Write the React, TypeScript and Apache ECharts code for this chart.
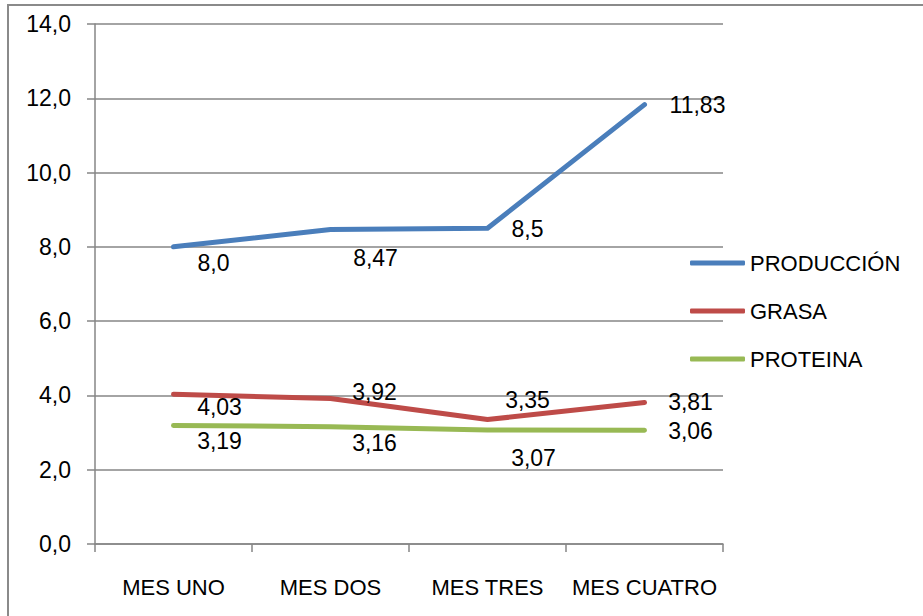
import React, { useEffect, useRef } from "react";
import * as echarts from "echarts";

const categories = ["MES UNO", "MES DOS", "MES TRES", "MES CUATRO"];
const produccion = [8.0, 8.47, 8.5, 11.83];
const grasa = [4.03, 3.92, 3.35, 3.81];
const proteina = [3.19, 3.16, 3.07, 3.06];
const produccionLabels = ["8,0", "8,47", "8,5", "11,83"];
const grasaLabels = ["4,03", "3,92", "3,35", "3,81"];
const proteinaLabels = ["3,19", "3,16", "3,07", "3,06"];
const yTicks = { min: 0, max: 14, interval: 2 };

// label offsets (dx, dy) from each point, in pixels
const produccionOffsets = [[40, 16], [45, 29], [40, 1], [53, 0]];
const grasaOffsets = [[46, 13], [44, -6], [40, -20], [46, 0]];
const proteinaOffsets = [[46, 15], [44, 16], [46, 28], [46, 1]];

const FONT = "'Liberation Sans', Arial, sans-serif";

function mkData(vals: number[], labels: string[], offs: number[][]) {
  return vals.map((v, i) => ({
    value: v,
    label: {
      show: true,
      position: "inside",
      offset: offs[i],
      formatter: labels[i],
      fontFamily: FONT,
      fontSize: 23,
      color: "#000",
    },
  }));
}

export default function App() {
  const ref = useRef<HTMLDivElement>(null);
  useEffect(() => {
    document.body.style.margin = "0";
    const chart = echarts.init(ref.current!, null, { renderer: "svg" });
    const series = [
      { name: "PRODUCCIÓN", color: "#4A7EBB", vals: produccion, labels: produccionLabels, offs: produccionOffsets },
      { name: "GRASA", color: "#BE4B48", vals: grasa, labels: grasaLabels, offs: grasaOffsets },
      { name: "PROTEINA", color: "#98B954", vals: proteina, labels: proteinaLabels, offs: proteinaOffsets },
    ];
    chart.setOption({
      animation: false,
      backgroundColor: "#fff",
      graphic: [
        {
          type: "rect",
          shape: { x: 8, y: 5, width: 940, height: 640 },
          style: { fill: "none", stroke: "#8a8a8a", lineWidth: 2 },
          silent: true,
          z: -1,
        },
      ],
      grid: { left: 95, right: 200, top: 24, bottom: 72, containLabel: false },
      legend: {
        orient: "vertical",
        left: 685,
        top: 246,
        itemWidth: 55,
        itemHeight: 5,
        itemGap: 24,
        icon: "roundRect",
        data: series.map((s) => s.name),
        textStyle: { fontFamily: FONT, fontSize: 22, color: "#000", lineHeight: 24 },
      },
      xAxis: {
        type: "category",
        data: categories,
        boundaryGap: true,
        axisLine: { lineStyle: { color: "#868686", width: 1.5 } },
        axisTick: { show: true, length: 8, lineStyle: { color: "#868686", width: 1.5 } },
        axisLabel: { fontFamily: FONT, fontSize: 22, color: "#000", margin: 32, interval: 0 },
        splitLine: { show: false },
      },
      yAxis: {
        type: "value",
        min: yTicks.min,
        max: yTicks.max,
        interval: yTicks.interval,
        axisLine: { show: true, lineStyle: { color: "#868686", width: 1.5 } },
        axisTick: { show: true, length: 8, lineStyle: { color: "#868686", width: 1.5 } },
        axisLabel: {
          fontFamily: FONT,
          fontSize: 23,
          color: "#000",
          margin: 24,
          formatter: (v: number) => v.toFixed(1).replace(".", ","),
        },
        splitLine: { show: true, lineStyle: { color: "#868686", width: 1.5 } },
      },
      series: series.map((s) => ({
        name: s.name,
        type: "line",
        data: mkData(s.vals, s.labels, s.offs),
        symbol: "circle",
        symbolSize: 0.01,
        showSymbol: true,
        color: s.color,
        lineStyle: { color: s.color, width: 5, cap: "round", join: "round" },
        itemStyle: { color: s.color },
        emphasis: { disabled: true },
        z: 3,
      })),
    });
    return () => chart.dispose();
  }, []);
  return <div ref={ref} style={{ width: 923, height: 616, position: "absolute", left: 0, top: 0 }} />;
}
